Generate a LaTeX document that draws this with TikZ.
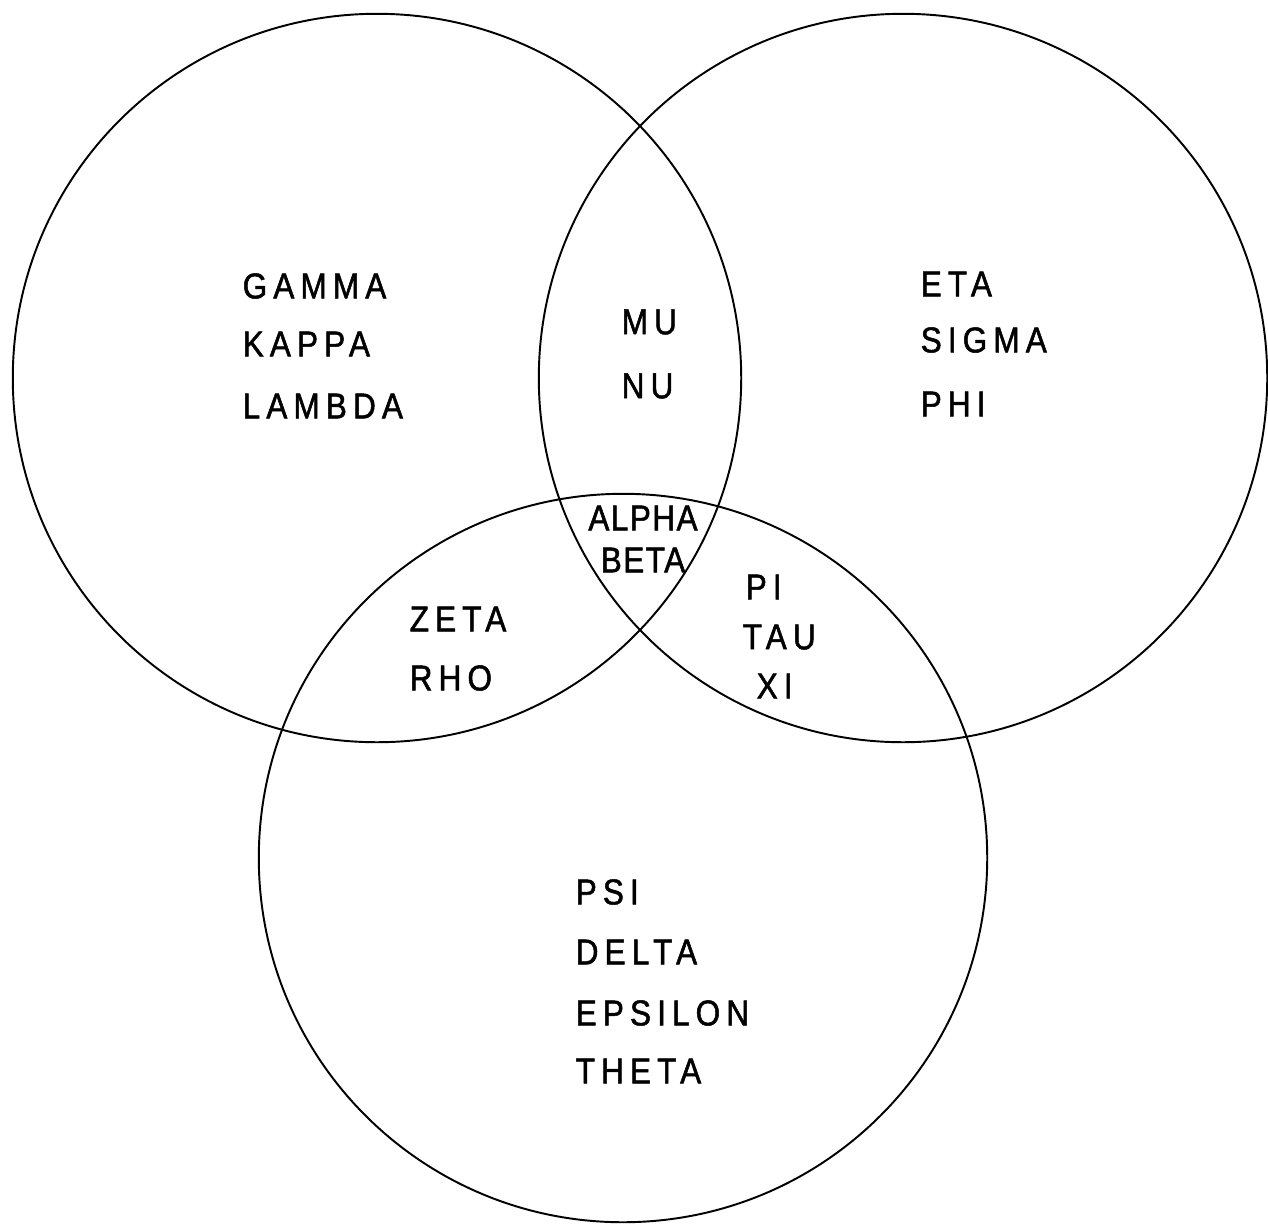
\documentclass[tikz,border=0pt]{standalone}
\usepackage{fontspec}
\setmainfont{Liberation Sans}
\newfontfamily\vennfont[FakeStretch=0.88,LetterSpace=17,FakeBold=1.4]{Liberation Sans}
\newfontfamily\venncorefont[FakeStretch=0.88,LetterSpace=4,FakeBold=1.4]{Liberation Sans}

\begin{document}
\begin{tikzpicture}[x=0.01cm, y=-0.01cm,
    setcirc/.style={circle, draw=black, line width=0.55pt, minimum size=7.28cm, inner sep=0pt},
    elem/.style={font=\fontsize{10.2}{12}\vennfont, anchor=west, inner sep=0pt},
    core/.style={font=\fontsize{10.2}{12}\venncorefont, inner sep=0pt},
]
\useasboundingbox (0,0) rectangle (1268,1224);

% --- SETS ---
\node[setcirc] (setL) at (377,378) {};
\node[setcirc] (setR) at (903,378) {};
\node[setcirc] (setB) at (623,858) {};

% --- ONLY ONE SET ---
\foreach \y/\lbl in {286/GAMMA, 344/KAPPA, 406/LAMBDA} {
    \node[elem] (\lbl) at (242,\y) {\lbl};
}
\foreach \y/\lbl in {284/ETA, 340/SIGMA, 404/PHI} {
    \node[elem] (\lbl) at (920,\y) {\lbl};
}
\foreach \y/\lbl in {892/PSI, 952/DELTA, 1013/EPSILON, 1071/THETA} {
    \node[elem] (\lbl) at (575,\y) {\lbl};
}

% --- TWO SETS ---
\foreach \y/\lbl in {322/MU, 386/NU} {
    \node[elem] (\lbl) at (621,\y) {\lbl};
}
\foreach \y/\lbl in {619/ZETA, 678/RHO} {
    \node[elem] (\lbl) at (409,\y) {\lbl};
}
\node[elem] (PI)  at (745,587) {PI};
\node[elem] (TAU) at (742,637) {TAU};
\node[elem] (XI)  at (756,686) {XI};

% --- ALL THREE ---
\node[core] (ALPHA) at (643,518) {ALPHA};
\node[core] (BETA)  at (643,560) {BETA};

\end{tikzpicture}
\end{document}
